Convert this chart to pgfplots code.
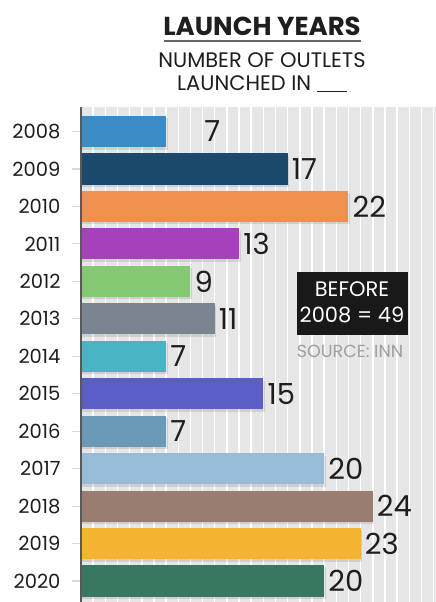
\documentclass[border=0pt]{standalone}
\usepackage{pgfplots}
\pgfplotsset{compat=1.18}
\usepackage{fontspec}
\setmainfont{Poppins}
\definecolor{c08}{HTML}{3B8BC5}
\definecolor{c09}{HTML}{1C4A6D}
\definecolor{c10}{HTML}{EF904F}
\definecolor{c11}{HTML}{A740BB}
\definecolor{c12}{HTML}{84C874}
\definecolor{c13}{HTML}{7A8591}
\definecolor{c14}{HTML}{48B4C4}
\definecolor{c15}{HTML}{5B5EC4}
\definecolor{c16}{HTML}{6A9AB8}
\definecolor{c17}{HTML}{96BCD7}
\definecolor{c18}{HTML}{9A7D71}
\definecolor{c19}{HTML}{F4B331}
\definecolor{c20}{HTML}{387860}
\definecolor{cbg}{HTML}{E6E6E6}
\definecolor{ctxt}{HTML}{1E1E1E}
\begin{document}
\begin{tikzpicture}[x=1pt,y=1pt]
\begin{axis}[
  at={(81pt,0pt)}, anchor=south west,
  scale only axis, width=355pt, height=495pt,
  xmin=0, xmax=29.2, ymin=-0.654, ymax=12.56, y dir=reverse,
  xbar, bar width=0.83, bar shift=0pt,
  axis background/.style={fill=cbg},
  axis line style={draw=none},
  xtick={0,1,...,29}, xticklabels={}, xmajorgrids,
  x tick style={draw=none},
  major grid style={white, line width=1.5pt},
  ytick={0,1,...,12},
  yticklabels={2008,2009,2010,2011,2012,2013,2014,2015,2016,2017,2018,2019,2020},
  tick align=outside, major tick length=9pt,
  y tick style={draw=gray!30, line width=1.2pt},
  yticklabel style={font=\fontsize{19.5}{19.5}\selectfont, text=ctxt, xshift=-8pt},
  /pgf/number format/assume math mode=true,
  nodes near coords,
  nodes near coords style={font=\fontsize{29}{29}\selectfont, anchor=west, text=ctxt, inner sep=4pt},
  every axis plot post/.append style={draw=none, preaction={fill=black, fill opacity=0.10, transform canvas={xshift=1.5pt, yshift=-2.5pt}}},
  clip=false,
]
\addplot[fill=c08, nodes near coords style={xshift=34pt}] coordinates {(7,0)};
\addplot[fill=c09] coordinates {(17,1)};
\addplot[fill=c10] coordinates {(22,2)};
\addplot[fill=c11] coordinates {(13,3)};
\addplot[fill=c12] coordinates {(9,4)};
\addplot[fill=c13] coordinates {(11,5)};
\addplot[fill=c14] coordinates {(7,6)};
\addplot[fill=c15] coordinates {(15,7)};
\addplot[fill=c16] coordinates {(7,8)};
\addplot[fill=c17] coordinates {(20,9)};
\addplot[fill=c18] coordinates {(24,10)};
\addplot[fill=c19] coordinates {(23,11)};
\addplot[fill=c20] coordinates {(20,12)};
\draw[gray!70!black, line width=1.2pt] (rel axis cs:0,0) -- (rel axis cs:0,1);
\end{axis}
\node[anchor=base, font=\bfseries\fontsize{26}{26}\selectfont, text=ctxt] at (262,566) {LAUNCH YEARS};
\draw[gray!80!black, line width=1.8pt] (164,561) -- (361,561);
\node[anchor=base, font=\fontsize{21}{21}\selectfont, text=ctxt] at (262,534) {NUMBER OF OUTLETS};
\node[anchor=base, font=\fontsize{21}{21}\selectfont, text=ctxt] at (262,511) {LAUNCHED IN \rule[-1pt]{30pt}{1.2pt}};
\fill[black!90] (297,267) rectangle (408,330);
\node[anchor=base, font=\fontsize{21}{21}\selectfont, text=white] at (352,305) {BEFORE};
\node[anchor=base, font=\fontsize{21}{21}\selectfont, text=white] at (352,279) {2008 = 49};
\node[anchor=base, font=\fontsize{17.5}{17.5}\selectfont, text=gray!75] at (350,244) {SOURCE: INN};
\pgfresetboundingbox
\useasboundingbox (0,0) rectangle (436,602);
\end{tikzpicture}
\end{document}
